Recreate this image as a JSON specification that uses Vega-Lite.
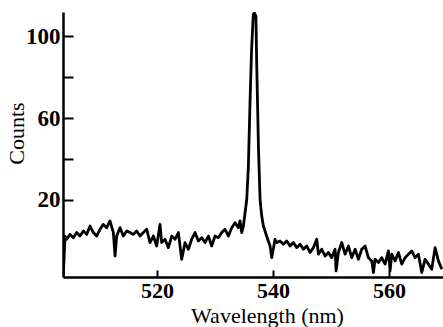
{
  "$schema": "https://vega.github.io/schema/vega-lite/v6.json",
  "autosize": "none",
  "width": 380,
  "height": 265,
  "padding": {"left": 63, "top": 12, "right": 0, "bottom": 50},
  "background": "white",
  "config": {"view": {"stroke": null}},
  "data": {"values": [
    {"w": 503.85, "c": -17.5}, {"w": 504.15, "c": 2.1}, {"w": 504.43, "c": 0.5}, {"w": 505.01, "c": 2.9},
    {"w": 505.58, "c": 1.3}, {"w": 506.16, "c": 3.8}, {"w": 506.73, "c": 2.1}, {"w": 507.31, "c": 4.6},
    {"w": 507.88, "c": 2.9}, {"w": 508.46, "c": 7.0}, {"w": 509.03, "c": 3.8}, {"w": 509.60, "c": 2.1},
    {"w": 510.18, "c": 5.4}, {"w": 510.75, "c": 7.8}, {"w": 511.33, "c": 6.2}, {"w": 511.90, "c": 9.5},
    {"w": 512.48, "c": 3.8}, {"w": 512.77, "c": -7.7}, {"w": 513.05, "c": 2.1}, {"w": 513.63, "c": 6.2},
    {"w": 514.20, "c": 2.1}, {"w": 514.78, "c": 4.6}, {"w": 515.35, "c": 3.8}, {"w": 515.93, "c": 2.9},
    {"w": 516.50, "c": 4.6}, {"w": 517.08, "c": 2.1}, {"w": 517.65, "c": 3.8}, {"w": 518.23, "c": 5.4},
    {"w": 518.80, "c": -1.1}, {"w": 519.38, "c": 2.1}, {"w": 519.95, "c": -2.8}, {"w": 520.52, "c": 7.8},
    {"w": 520.81, "c": -1.1}, {"w": 521.39, "c": 0.5}, {"w": 521.96, "c": -3.6}, {"w": 522.54, "c": 2.1},
    {"w": 523.11, "c": 0.5}, {"w": 523.69, "c": 3.8}, {"w": 524.26, "c": -9.3}, {"w": 524.84, "c": -1.1},
    {"w": 525.41, "c": -4.4}, {"w": 525.98, "c": 0.5}, {"w": 526.56, "c": 3.8}, {"w": 527.13, "c": -0.3},
    {"w": 527.71, "c": 1.3}, {"w": 528.28, "c": -1.1}, {"w": 528.86, "c": 2.1}, {"w": 529.43, "c": -2.8},
    {"w": 530.01, "c": 2.1}, {"w": 530.58, "c": 1.3}, {"w": 531.16, "c": 3.8}, {"w": 531.73, "c": 5.4},
    {"w": 532.31, "c": 2.1}, {"w": 532.88, "c": 6.2}, {"w": 533.46, "c": 8.6}, {"w": 534.03, "c": 6.2},
    {"w": 534.32, "c": 9.5}, {"w": 534.60, "c": 3.8}, {"w": 534.89, "c": 7.0}, {"w": 535.18, "c": 13.5},
    {"w": 535.47, "c": 20.0}, {"w": 535.75, "c": 36.0}, {"w": 536.05, "c": 69.0}, {"w": 536.30, "c": 93.0},
    {"w": 536.60, "c": 111.0}, {"w": 536.80, "c": 111.5}, {"w": 537.05, "c": 110.0}, {"w": 537.20, "c": 85.0},
    {"w": 537.50, "c": 44.5}, {"w": 537.77, "c": 20.0}, {"w": 538.05, "c": 12.0}, {"w": 538.34, "c": 7.0},
    {"w": 538.91, "c": 2.0}, {"w": 539.49, "c": -2.8}, {"w": 539.78, "c": -8.5}, {"w": 540.35, "c": 0.5},
    {"w": 540.64, "c": -1.1}, {"w": 541.21, "c": -0.3}, {"w": 541.79, "c": -1.9}, {"w": 542.36, "c": -0.3},
    {"w": 542.94, "c": -2.8}, {"w": 543.51, "c": -1.1}, {"w": 544.09, "c": -3.6}, {"w": 544.66, "c": -1.9},
    {"w": 545.24, "c": -4.4}, {"w": 545.81, "c": -2.8}, {"w": 546.39, "c": -6.0}, {"w": 546.96, "c": -3.6},
    {"w": 547.54, "c": 0.5}, {"w": 547.82, "c": -6.8}, {"w": 548.40, "c": -4.4}, {"w": 548.97, "c": -7.7},
    {"w": 549.55, "c": -6.0}, {"w": 550.12, "c": -8.5}, {"w": 550.70, "c": -4.4}, {"w": 550.87, "c": -15.0},
    {"w": 551.27, "c": -6.0}, {"w": 551.85, "c": -1.1}, {"w": 552.42, "c": -6.8}, {"w": 553.00, "c": -2.8},
    {"w": 553.57, "c": -8.5}, {"w": 554.15, "c": -4.4}, {"w": 554.72, "c": -9.3}, {"w": 555.29, "c": -4.4},
    {"w": 555.87, "c": -2.8}, {"w": 556.44, "c": -8.5}, {"w": 557.02, "c": -10.1}, {"w": 557.31, "c": -15.8},
    {"w": 557.59, "c": -9.3}, {"w": 558.17, "c": -10.9}, {"w": 558.74, "c": -8.5}, {"w": 559.32, "c": -11.7},
    {"w": 559.89, "c": -5.2}, {"w": 560.18, "c": -15.0}, {"w": 560.47, "c": -6.8}, {"w": 561.04, "c": -10.1},
    {"w": 561.62, "c": -6.0}, {"w": 562.19, "c": -11.7}, {"w": 562.77, "c": -8.5}, {"w": 563.34, "c": -6.8},
    {"w": 563.92, "c": -5.2}, {"w": 564.49, "c": -8.5}, {"w": 565.06, "c": -6.8}, {"w": 565.64, "c": -15.8},
    {"w": 566.21, "c": -9.3}, {"w": 566.79, "c": -11.7}, {"w": 567.36, "c": -14.2}, {"w": 567.94, "c": -3.6},
    {"w": 568.51, "c": -10.1}, {"w": 569.09, "c": -14.2}
  ]},
  "mark": {"type": "line", "color": "black", "strokeWidth": 2.8, "strokeJoin": "round", "clip": true},
  "encoding": {
    "x": {
      "field": "w", "type": "quantitative",
      "scale": {"domain": [503.8, 569.3], "nice": false, "zero": false},
      "axis": {
        "title": "Wavelength (nm)",
        "values": [520, 540, 560],
        "grid": false,
        "domainColor": "black", "domainWidth": 2.5,
        "tickColor": "black", "tickWidth": 2, "tickSize": -7,
        "labelPadding": 10,
        "labelFont": "Liberation Serif", "labelFontSize": 22, "labelFontWeight": "bold", "labelColor": "black",
        "titleFont": "Liberation Serif", "titleFontSize": 22, "titleFontWeight": "normal", "titleColor": "black",
        "titleX": 204, "titleY": 45, "titleAlign": "center", "titleBaseline": "alphabetic"
      }
    },
    "y": {
      "field": "c", "type": "quantitative",
      "scale": {"domain": [-18, 112], "nice": false, "zero": false},
      "axis": {
        "title": "Counts",
        "values": [20, 40, 60, 80, 100],
        "labelExpr": "datum.value % 40 == 20 ? datum.label : ''",
        "grid": false,
        "domainColor": "black", "domainWidth": 2.5,
        "tickColor": "black", "tickWidth": 2, "tickSize": -10,
        "labelPadding": 13,
        "labelFont": "Liberation Serif", "labelFontSize": 23, "labelFontWeight": "bold", "labelColor": "black",
        "titleFont": "Liberation Serif", "titleFontSize": 22, "titleFontWeight": "normal", "titleColor": "black",
        "titleX": -47, "titleY": 121, "titleAngle": -90, "titleAlign": "center", "titleBaseline": "middle"
      }
    }
  }
}
